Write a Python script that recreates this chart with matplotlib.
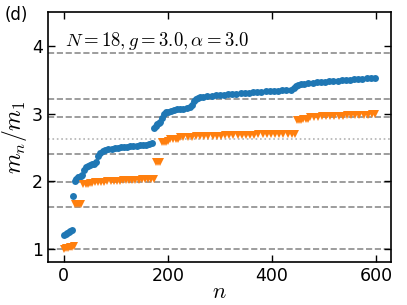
import matplotlib
matplotlib.use("Agg")
import matplotlib.pyplot as plt

plt.rcParams['mathtext.fontset'] = 'cm'

# E8 mass ratios (dashed) and the m1+m2 threshold (dotted)
e8_ratios = [1.0, 1.618034, 1.989044, 2.404867, 2.956295, 3.218340, 3.891157]
threshold = [2.618034]

blue_n = [1, 4, 7, 10, 13, 16,
          18,
          21, 24, 27, 30, 33, 36, 39, 42, 46, 50, 54, 58, 62,
          66, 70, 75, 80, 86, 92, 98, 104, 110, 116, 122, 128, 134, 140, 146, 152, 158, 164, 170,
          174, 177, 180, 183, 186, 189, 192, 196, 200, 206, 212, 218, 224, 230, 236, 242,
          246, 250, 254, 258, 262, 268, 276, 284, 292, 300, 308, 316, 324, 332, 340, 348,
          356, 364, 372, 380, 388, 396, 404, 412, 420, 428, 436,
          442, 446, 450, 455, 462, 470, 478, 486, 494, 502, 510, 518, 526, 534, 542, 550,
          558, 566, 574, 582, 590, 598]
blue_v = [1.21, 1.23, 1.24, 1.25, 1.26, 1.28,
          1.79,
          2.00, 2.04, 2.06, 2.07, 2.08, 2.10, 2.17, 2.21, 2.23, 2.24, 2.25, 2.26, 2.28,
          2.38, 2.42, 2.45, 2.46, 2.47, 2.48, 2.485, 2.49, 2.50, 2.505, 2.51, 2.515, 2.52,
          2.525, 2.53, 2.535, 2.54, 2.55, 2.56,
          2.78, 2.81, 2.85, 2.86, 2.88, 2.94, 2.99, 3.02, 3.03, 3.04, 3.05, 3.06, 3.065,
          3.07, 3.08, 3.09,
          3.13, 3.18, 3.21, 3.23, 3.24, 3.25, 3.26, 3.265, 3.27, 3.275, 3.28, 3.285, 3.29,
          3.295, 3.30, 3.305, 3.31, 3.315, 3.32, 3.322, 3.327, 3.33, 3.335, 3.34, 3.345,
          3.35, 3.355,
          3.37, 3.40, 3.42, 3.435, 3.44, 3.45, 3.455, 3.46, 3.465, 3.47, 3.475, 3.48, 3.485,
          3.49, 3.495, 3.50, 3.505, 3.51, 3.515, 3.52, 3.525, 3.53]

orange_n = [0, 4, 8, 12, 16, 19,
            22, 26, 30, 34,
            38, 42, 46, 50, 54, 60, 66, 72, 78, 84, 90, 96, 102, 108, 114, 120, 126, 132,
            138, 144, 150, 156, 162, 168, 173,
            177, 181, 185,
            189, 193, 197, 201,
            205, 210, 215, 220,
            224, 230, 238, 246, 254, 262, 270, 278, 286, 294, 302, 310, 318, 326, 334, 342,
            350, 358, 366, 374, 382, 390, 398, 406, 414, 422, 430, 438, 444,
            448, 452, 456, 460, 465, 469,
            473, 480, 488, 496, 504, 512, 520, 528, 536, 544, 552, 560, 568, 576, 584, 592, 598]
orange_v = [1.00, 1.01, 1.02, 1.025, 1.03, 1.04,
            1.66, 1.66, 1.665, 1.67,
            1.96, 1.96, 1.965, 1.97, 1.98, 1.985, 1.99, 1.99, 1.995, 2.0, 2.0, 2.005, 2.01,
            2.01, 2.015, 2.015, 2.02, 2.02, 2.025, 2.025, 2.03, 2.03, 2.035, 2.035, 2.04,
            2.29, 2.29, 2.29,
            2.58, 2.58, 2.585, 2.59,
            2.62, 2.62, 2.625, 2.63,
            2.65, 2.655, 2.657, 2.66, 2.662, 2.665, 2.667, 2.67, 2.672, 2.674, 2.676, 2.678,
            2.68, 2.682, 2.684, 2.686, 2.688, 2.69, 2.691, 2.692, 2.693, 2.694, 2.695, 2.696,
            2.697, 2.698, 2.699, 2.70, 2.70,
            2.91, 2.91, 2.91, 2.915, 2.915, 2.92,
            2.95, 2.952, 2.955, 2.958, 2.96, 2.962, 2.965, 2.967, 2.97, 2.972, 2.975, 2.977,
            2.98, 2.982, 2.985, 2.988, 2.99]

fig = plt.figure(figsize=(4.07, 3.05), dpi=100)
ax = fig.add_axes([0.118, 0.141, 0.843, 0.82])

for r in e8_ratios:
    ax.axhline(r, color='0.55', ls='--', lw=1.2, zorder=1)
for r in threshold:
    ax.axhline(r, color='0.7', ls=':', lw=1.2, zorder=1)

ax.plot(blue_n, blue_v, 'o', color='#1f77b4', ms=5.0, mew=0, zorder=3)
ax.plot(orange_n, orange_v, 'v', color='#ff7f0e', ms=5.8, mew=0, zorder=3)

ax.set_xlim(-30, 629)
ax.set_ylim(0.81, 4.5)
ax.set_xticks([0, 200, 400, 600])
ax.set_yticks([1, 2, 3, 4])
ax.tick_params(direction='in', top=True, right=True, labelsize=12.5, length=5, width=1)
for s in ax.spines.values():
    s.set_linewidth(1.2)

ax.set_xlabel('$n$', fontsize=16, labelpad=-2)
ax.set_ylabel('$m_n/m_1$', fontsize=17, labelpad=2)
ax.text(0.05, 0.865, r'$N=18, g=3.0, \alpha=3.0$', transform=ax.transAxes, fontsize=13.5)
fig.text(0.012, 0.935, '(d)', fontsize=12)

fig.savefig('out.png', dpi=100)
